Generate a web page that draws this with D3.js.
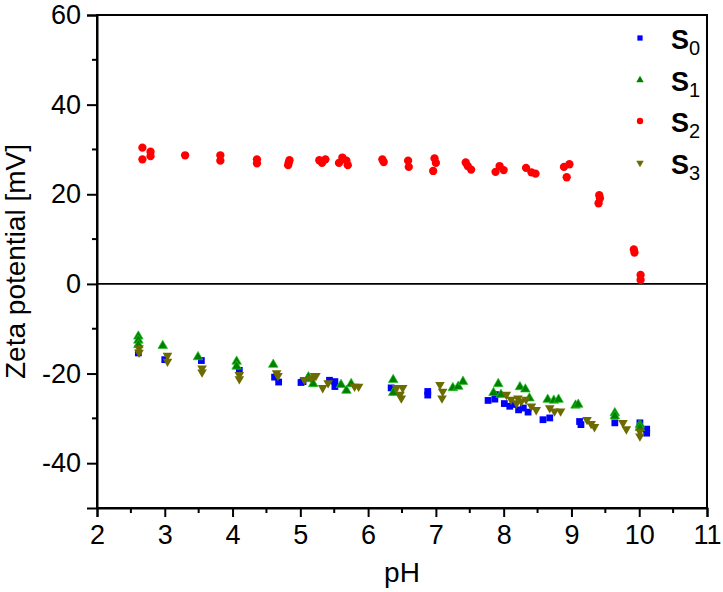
<!DOCTYPE html>
<html><head><meta charset="utf-8">
<script src="https://cdn.jsdelivr.net/npm/d3@7"></script>
<style>body{margin:0;background:#fff}svg{display:block}text{font-family:"Liberation Sans",Arial,sans-serif}</style>
</head><body><div id="chart"></div>
<script>
const xTicks = [2,3,4,5,6,7,8,9,10,11];
const yTicks = [-40,-20,0,20,40,60];
const seriesNames = ["S0","S1","S2","S3"];
const seriesColors = ["#0000ff","#008000","#ff0000","#6b6b00"];

const s0_pH = [2.61,3.0,3.54,4.10,4.62,4.68,5.01,5.04,5.43,5.51,5.51,6.34,6.88,6.88,7.77,7.87,7.88,8.01,8.09,8.14,8.22,8.29,8.36,8.58,8.68,9.12,9.14,9.64,10.01,10.11,10.11];
const s0_zeta = [-15.4,-16.9,-17.1,-19.3,-20.8,-21.9,-22.0,-21.8,-21.5,-21.8,-22.9,-23.2,-24.0,-24.8,-26.0,-25.7,-24.7,-26.7,-27.3,-26.9,-28.1,-27.7,-28.6,-30.3,-29.9,-30.7,-31.4,-31.0,-31.0,-32.4,-33.3];

const s1_pH = [2.61,2.61,2.61,2.97,3.49,4.06,4.06,4.60,5.11,5.12,5.19,5.60,5.68,5.75,6.37,6.37,7.25,7.33,7.40,7.85,7.92,7.96,8.24,8.32,8.38,8.65,8.74,8.81,9.06,9.10,9.64,9.64,10.01,10.01];
const s1_zeta = [-11.7,-12.6,-13.6,-13.8,-16.3,-17.3,-18.4,-18.0,-21.2,-20.8,-22.3,-22.5,-23.8,-22.3,-21.4,-24.3,-23.2,-22.9,-21.8,-24.3,-22.3,-24.7,-23.0,-23.5,-25.5,-25.8,-26.0,-25.8,-27.1,-26.9,-28.8,-29.5,-31.4,-32.1];

const s2_pH = [2.67,2.67,2.79,2.79,3.30,3.82,3.82,4.36,4.36,4.82,4.84,4.83,5.28,5.32,5.37,5.57,5.62,5.68,5.70,6.21,6.23,6.59,6.60,6.98,7.00,6.96,7.44,7.47,7.52,7.88,7.94,8.00,8.33,8.41,8.47,8.89,8.97,8.93,9.41,9.42,9.40,9.92,9.93,10.02,10.02];
const s2_zeta = [30.4,27.8,29.5,28.5,28.7,28.7,27.5,27.8,26.9,26.5,27.6,27.1,27.6,27.0,27.8,27.0,28.2,27.5,26.5,27.8,27.2,27.5,26.1,28.0,27.0,25.2,27.1,26.3,25.5,25.0,26.3,25.4,25.9,24.9,24.6,26.1,26.7,23.8,19.8,19.1,18.0,7.7,7.0,2.0,0.9];

const s3_pH = [2.62,2.62,3.04,3.04,3.55,3.55,4.10,4.10,4.65,4.67,5.06,5.16,5.21,5.23,5.33,5.41,5.80,5.86,6.42,6.47,6.51,6.49,7.06,7.10,7.09,8.04,8.11,8.19,8.21,8.26,8.33,8.41,8.48,8.68,8.75,8.84,9.23,9.29,9.34,9.76,9.81,10.01,10.01];
const s3_zeta = [-14.3,-15.3,-16.0,-17.3,-18.8,-19.7,-20.3,-21.2,-19.9,-20.5,-21.4,-21.0,-20.5,-20.5,-23.2,-22.1,-22.9,-22.9,-23.2,-24.7,-23.2,-25.5,-22.5,-24.0,-25.5,-24.7,-25.8,-26.6,-25.5,-26.2,-25.8,-27.3,-28.1,-27.7,-28.4,-28.4,-30.3,-31.2,-31.9,-31.0,-32.4,-32.9,-34.0];

const W = 723, H = 592;
const m = {left: 97, right: 16, top: 15, bottom: 84};
const svg = d3.select("#chart").append("svg").attr("width", W).attr("height", H);
const x = d3.scaleLinear().domain([2, 11]).range([m.left, W - m.right]);
const y = d3.scaleLinear().domain([-50, 60]).range([H - m.bottom, m.top]);

// frame
svg.append("rect").attr("x", x(2)).attr("y", y(60)).attr("width", x(11) - x(2)).attr("height", y(-50) - y(60))
  .attr("fill", "none").attr("stroke", "#000").attr("stroke-width", 2);
// zero line
svg.append("line").attr("x1", x(2)).attr("x2", x(11)).attr("y1", y(0)).attr("y2", y(0))
  .attr("stroke", "#000").attr("stroke-width", 1.6);

// x axis
const xMinor = d3.range(2.5, 11, 1);
const xAx = svg.append("g").attr("transform", `translate(0,${y(-50)})`);
xAx.call(d3.axisBottom(x).tickValues(xTicks).tickSize(9).tickPadding(8).tickFormat(d3.format("d")));
xAx.append("g").selectAll("line").data(xMinor).join("line")
  .attr("x1", d => x(d)).attr("x2", d => x(d)).attr("y1", 0).attr("y2", 5).attr("stroke", "#000").attr("stroke-width", 2);
// y axis
const yMinor = d3.range(-30, 60, 20);
const yAx = svg.append("g").attr("transform", `translate(${x(2)},0)`);
yAx.call(d3.axisLeft(y).tickValues(yTicks).tickSize(10).tickPadding(6).tickFormat(d3.format("d")));
yAx.append("g").selectAll("line").data(yMinor).join("line")
  .attr("y1", d => y(d)).attr("y2", d => y(d)).attr("x1", 0).attr("x2", -5).attr("stroke", "#000").attr("stroke-width", 2);

[xAx, yAx].forEach(a => {
  a.select(".domain").attr("stroke-width", 2);
  a.selectAll(".tick line").attr("stroke-width", 2);
  a.selectAll(".tick text").attr("font-size", 27).attr("fill", "#000").attr("font-family", '"Liberation Sans",Arial,sans-serif');
});
yAx.selectAll(".tick text").text(d => d < 0 ? "-" + Math.abs(d) : d);

// axis labels
svg.append("text").attr("x", (x(2) + x(11)) / 2).attr("y", 582).attr("text-anchor", "middle")
  .attr("font-size", 28).text("pH");
svg.append("text").attr("transform", `translate(25,${(y(60) + y(-50)) / 2}) rotate(-90)`)
  .attr("text-anchor", "middle").attr("font-size", 28).text("Zeta potential [mV]");

// markers
const shapes = [
  {type: d3.symbolSquare, size: 46, rot: 0},
  {type: d3.symbolTriangle, size: 40, rot: 0},
  {type: d3.symbolCircle, size: 54, rot: 0},
  {type: d3.symbolTriangle, size: 40, rot: 180}
];
const seriesData = [
  d3.zip(s0_pH, s0_zeta), d3.zip(s1_pH, s1_zeta), d3.zip(s2_pH, s2_zeta), d3.zip(s3_pH, s3_zeta)
];
const strokes = ["none", "#22c322", "none", "none"];
seriesData.forEach((data, i) => {
  const sh = shapes[i];
  svg.append("g").selectAll("path").data(data).join("path")
    .attr("d", d3.symbol().type(sh.type).size(sh.size))
    .attr("transform", d => `translate(${x(d[0])},${y(d[1])}) rotate(${sh.rot})`)
    .attr("fill", seriesColors[i])
    .attr("stroke", strokes[i]).attr("stroke-width", 0.7);
});

// legend
const legY = [38, 80, 121, 163];
const leg = svg.append("g");
seriesNames.forEach((n, i) => {
  const sh = shapes[i];
  leg.append("path").attr("d", d3.symbol().type(sh.type).size(sh.size * 0.6))
    .attr("transform", `translate(640,${legY[i]}) rotate(${sh.rot})`)
    .attr("fill", seriesColors[i]);
  const t = leg.append("text").attr("x", 671).attr("y", legY[i] + 11).attr("font-size", 27).attr("font-weight", "bold");
  t.append("tspan").text("S");
  t.append("tspan").attr("font-weight", "normal").attr("font-size", 20).attr("dy", 6).text(n.slice(1));
});
</script>
</body></html>
